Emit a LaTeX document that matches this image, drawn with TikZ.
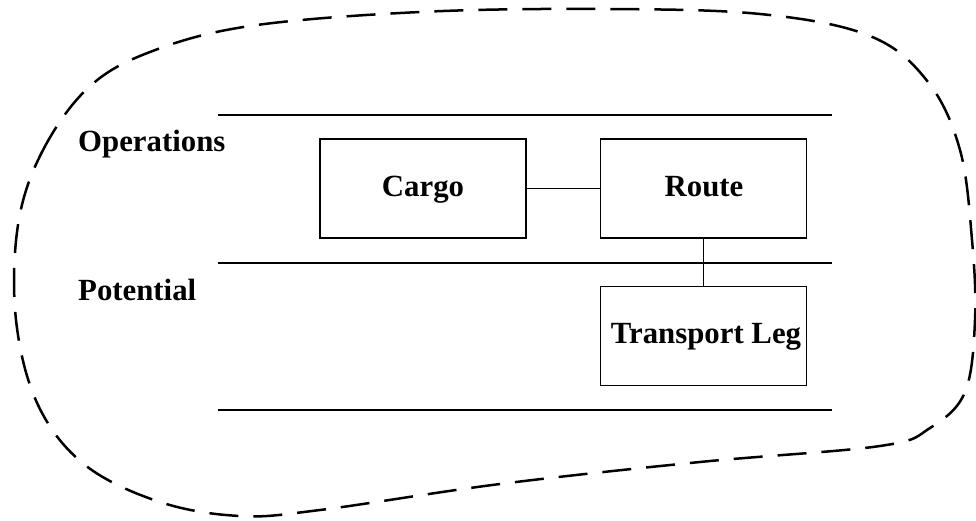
\documentclass[tikz,border=0pt]{standalone}
\usepackage{fontspec}
\setmainfont{Liberation Serif}
\begin{document}
\begin{tikzpicture}[x=1pt,y=-1pt,
  entity/.style={draw,line width=1.8pt,minimum width=206pt,minimum height=99pt,inner sep=0pt},
  lbl/.style={font=\fontsize{30.8}{34}\selectfont\bfseries,inner sep=0pt},
  layer/.style={line width=1.8pt},
  link/.style={line width=1.6pt},
  boundary/.style={line width=2.5pt,dash pattern=on 29pt off 15pt}]
\useasboundingbox (0,0) rectangle (976,521);
% boundary
\draw[boundary] plot[smooth cycle,tension=0.6] coordinates {
 (18,225) (42,152) (88,88) (150,52) (250,26) (420,12) (600,9) (760,14)
 (870,36) (928,82) (960,150) (972,240) (975,320) (965,392) (930,428)
 (880,446) (700,462) (500,484) (320,510) (240,516) (160,502) (85,465)
 (38,405) (16,320)};
% layer lines
\coordinate (l1a) at (218,115); \coordinate (l1b) at (832,115);
\coordinate (l2a) at (218,263); \coordinate (l2b) at (832,263);
\coordinate (l3a) at (218,410); \coordinate (l3b) at (832,410);
\draw[layer] (l1a) -- (l1b);
\draw[layer] (l2a) -- (l2b);
\draw[layer] (l3a) -- (l3b);
% layer labels
\node[lbl,anchor=base west] (ops) at (78,152) {Operations};
\node[lbl,anchor=base west] (pot) at (78,300) {Potential};
% boxes
\node[entity] (cargo) at (423,188.5) {};
\node[lbl,anchor=base] (cargot) at (423,197) {Cargo};
\node[entity] (route) at (703.5,188.5) {};
\node[lbl,anchor=base] (routet) at (704,197) {Route};
\node[entity] (leg) at (703.5,336) {};
\node[lbl,anchor=base] (legt) at (706,343) {Transport Leg};
% links
\draw[link] (cargo.east) -- (route.west);
\draw[link] (route.south) -- (leg.north);
\end{tikzpicture}
\end{document}
